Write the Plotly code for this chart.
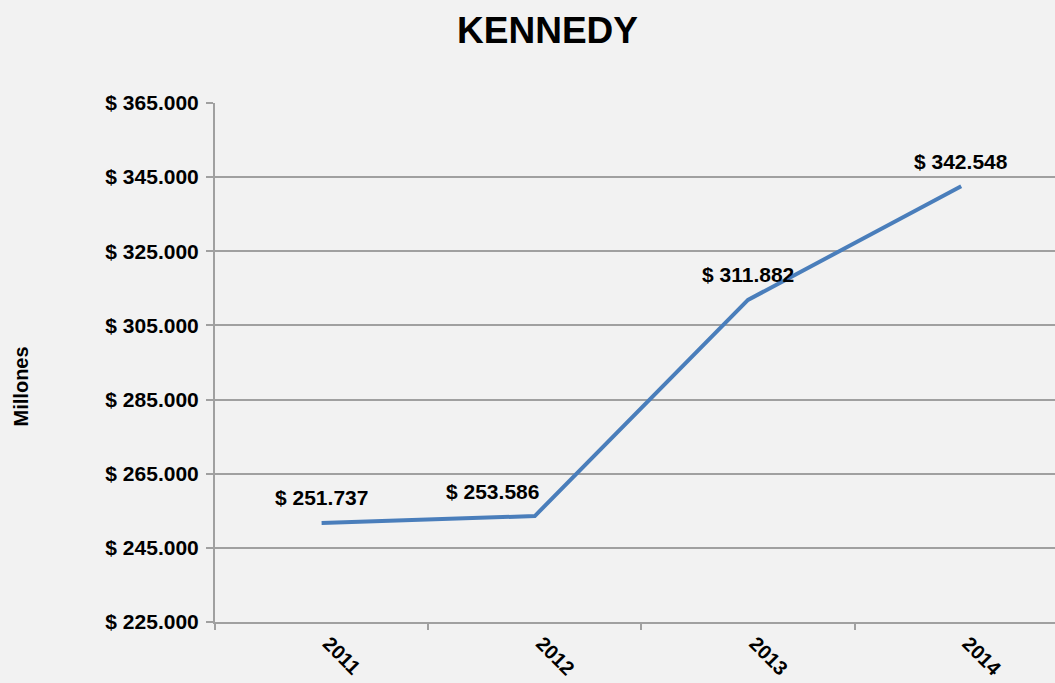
import plotly.graph_objects as go

years = ['2011', '2012', '2013', '2014']
values = [251737, 253586, 311882, 342548]
y_ticks = [225000, 245000, 265000, 285000, 305000, 325000, 345000, 365000]
label_xshift = [0, -42, 0, 0]


def pesos(v):
    return '$ ' + f'{v:,}'.replace(',', '.')


BG = '#f2f2f2'
GRID = '#a0a0a0'
FONT = 'Liberation Sans, Arial, sans-serif'

fig = go.Figure()
fig.add_trace(go.Scatter(x=years, y=values, mode='lines',
                         line=dict(color='#4a7ebb', width=4),
                         hoverinfo='x+y'))

# data labels above each point (2012 sits left of its point, as in the original)
for i, (v, dx) in enumerate(zip(values, label_xshift)):
    fig.add_annotation(xref='x', yref='y', x=i, y=v, text=f'<b>{pesos(v)}</b>',
                       showarrow=False, xshift=dx, yshift=25,
                       font=dict(size=21, color='black'))

fig.add_annotation(text='<b>Millones</b>', xref='paper', yref='paper', x=-0.247, y=0.453,
                   textangle=-90, showarrow=False, font=dict(size=20, color='black'))

fig.update_layout(
    width=1055, height=683,
    paper_bgcolor=BG, plot_bgcolor=BG,
    font=dict(family=FONT, color='black'),
    title=dict(text='<b>KENNEDY</b>', x=0.519, xanchor='center', y=0.956, yanchor='middle',
               font=dict(size=37, color='black')),
    margin=dict(l=215, r=0, t=103, b=61),
    showlegend=False,
    xaxis=dict(type='category', range=[-0.5, 3.44], tickson='boundaries',
               showgrid=False, showline=True, linecolor=GRID, linewidth=2,
               ticks='outside', ticklen=6, tickcolor=GRID, tickwidth=1.5,
               tickangle=45, tickfont=dict(size=20, color='black'),
               tickprefix='<b>', ticksuffix='</b>', ticklabelstandoff=0,
               ticklabelshift=7, automargin=False),
    yaxis=dict(range=[225000, 365000], tickvals=y_ticks,
               ticktext=[f'<b>{pesos(t)}</b>' for t in y_ticks],
               showgrid=True, gridcolor=GRID, gridwidth=1.5,
               showline=True, linecolor=GRID, linewidth=2,
               ticks='outside', ticklen=7, tickcolor=GRID, tickwidth=1.5,
               tickfont=dict(size=21, color='black'), zeroline=False,
               ticklabelstandoff=3, automargin=False),
)

fig.write_html('out.html', config={'displayModeBar': False},
               post_script="document.body.style.margin='0';")
